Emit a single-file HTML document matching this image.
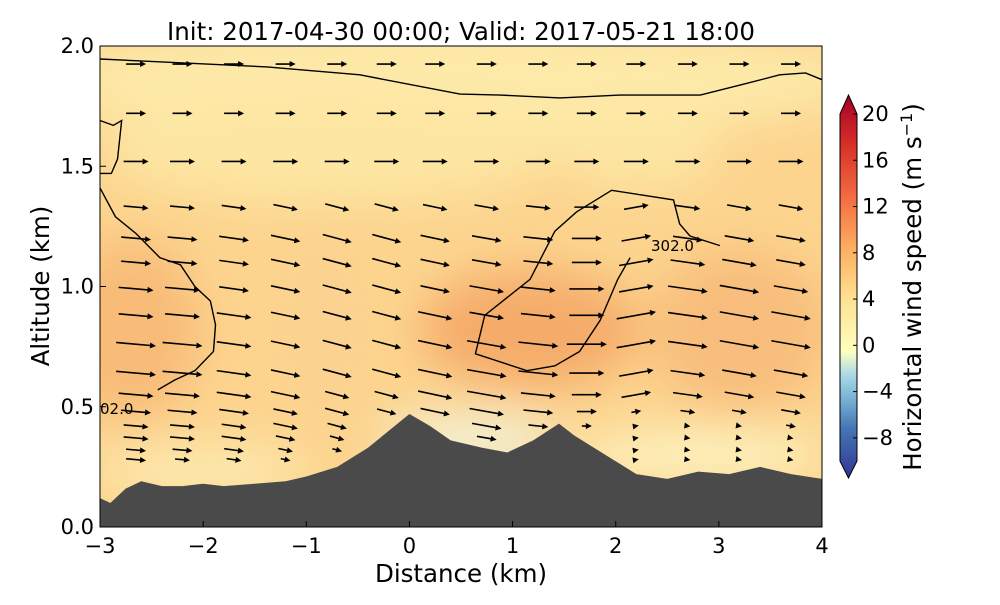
<!DOCTYPE html>
<html><head><meta charset="utf-8"><style>
body{margin:0;background:#fff;}
svg text{font-family:"DejaVu Sans","Liberation Sans",sans-serif;}
</style></head><body>
<svg id="chart" width="1000" height="600" viewBox="0 0 1000 600" xmlns="http://www.w3.org/2000/svg">
<defs>
<clipPath id="pc"><rect x="100" y="46" width="722" height="481"/></clipPath>
<filter id="bl" x="-50%" y="-50%" width="200%" height="200%"><feGaussianBlur stdDeviation="22"/></filter>
<linearGradient id="cbg" x1="0" y1="1" x2="0" y2="0">
<stop offset="0" stop-color="#313695"/><stop offset="0.13" stop-color="#4575b4"/>
<stop offset="0.2" stop-color="#74add1"/><stop offset="0.27" stop-color="#abd9e9"/>
<stop offset="0.33" stop-color="#ffffbf"/><stop offset="0.47" stop-color="#fee090"/>
<stop offset="0.6" stop-color="#fdae61"/><stop offset="0.73" stop-color="#f46d43"/>
<stop offset="0.87" stop-color="#d73027"/><stop offset="1" stop-color="#a50026"/>
</linearGradient>
</defs>
<text x="461" y="40" font-size="24.5" text-anchor="middle">Init: 2017-04-30 00:00; Valid: 2017-05-21 18:00</text>
<g clip-path="url(#pc)">
<rect x="100" y="46" width="722" height="481" fill="#fcd48e"/>
<g filter="url(#bl)">
<ellipse cx="450" cy="80" rx="420" ry="60" fill="#fde9a8"/>
<ellipse cx="330" cy="150" rx="230" ry="55" fill="#fde6a3"/>
<ellipse cx="640" cy="150" rx="80" ry="40" fill="#fde6a3"/>
<ellipse cx="130" cy="330" rx="70" ry="90" fill="#f8bb78"/>
<ellipse cx="530" cy="330" rx="110" ry="60" fill="#f5ac6b"/>
<ellipse cx="740" cy="330" rx="90" ry="80" fill="#f8bd7b"/>
<ellipse cx="320" cy="330" rx="30" ry="100" fill="#fbd190"/>
<ellipse cx="470" cy="440" rx="90" ry="25" fill="#f2f2d8"/>
<ellipse cx="700" cy="455" rx="130" ry="25" fill="#fdf3c0"/>
<ellipse cx="200" cy="470" rx="110" ry="25" fill="#fdeab0"/>
</g>
<path id="terrain" fill="#4a4a4a"/>
<g id="contours" fill="none" stroke="#000" stroke-width="1.4"></g>
<g id="arrows"></g>
<text x="651" y="251" font-size="15">302.0</text>
<text x="100" y="414" font-size="15">02.0</text>
</g>
<rect x="100" y="46" width="722" height="481" fill="none" stroke="#000" stroke-width="1"/>
<g id="axes" font-size="21"></g>
<text x="461" y="582" font-size="24.5" text-anchor="middle">Distance (km)</text>
<text transform="translate(49,286) rotate(-90)" font-size="24.5" text-anchor="middle">Altitude (km)</text>
<g>
<path d="M840,114 L848.5,95 L857,114 L857,461 L848.5,478 L840,461 Z" fill="url(#cbg)" stroke="#000" stroke-width="1"/>
<g id="cbticks" font-size="21"></g>
<text transform="translate(921,287) rotate(-90)" font-size="24.5" text-anchor="middle">Horizontal wind speed (m s<tspan dy="-9" font-size="16">−1</tspan><tspan dy="9">)</tspan></text>
</g>
</svg>
<script>
const terrainX=[-3,-2.9,-2.75,-2.6,-2.4,-2.2,-2.0,-1.8,-1.5,-1.2,-1.0,-0.7,-0.4,-0.2,0,0.2,0.4,0.7,0.95,1.2,1.45,1.6,1.9,2.2,2.5,2.8,3.1,3.4,3.7,4];
const terrainZ=[0.12,0.10,0.16,0.19,0.17,0.17,0.18,0.17,0.18,0.19,0.21,0.25,0.33,0.40,0.47,0.42,0.36,0.33,0.31,0.36,0.43,0.38,0.30,0.22,0.20,0.23,0.22,0.25,0.22,0.20];
const xTicks=[-3,-2,-1,0,1,2,3,4];
const yTicks=[0.0,0.5,1.0,1.5,2.0];
const cbTicks=[20,16,12,8,4,0,-4,-8];
const arrowCols=[-2.65,-2.2,-1.7,-1.2,-0.7,-0.22,0.25,0.75,1.25,1.72,2.2,2.7,3.2,3.7];
const arrowRows=[1.925,1.72,1.52,1.33,1.20,1.10,0.99,0.88,0.76,0.64,0.55,0.48,0.42,0.37,0.32,0.28];
const arrowSpeed=[
[4,4,4,4,4,4,4,4,4,4,4,4,4,4],
[4,4,4,4,4,4,4,4,4,4,4,4,4,4],
[5,5,5,5,5,5,5,5,5,5,5,5,5,5],
[5,5,5,5,5,5,5,5,5,5,5,5,5,5],
[6,6,6,6,6,6,6,6,6,6,6,6,6,6],
[6,6,6,6,6,6,6,6,6,6,7,7,7,6],
[7,7,6,6,6,6,6,7,7,7,7,8,8,7],
[7,7,7,6,6,6,7,7,7,7,8,8,8,8],
[8,8,7,6,6,6,7,8,8,8,8,8,8,8],
[8,8,7,6,6,6,7,8,8,7,7,7,7,7],
[7,7,7,6,5,5,7,8,7,6,6,6,6,6],
[6,6,6,5,5,4,6,7,6,4,2,3,3,4],
[5,5,5,5,4,3,5,6,4,2,1,1,1,2],
[5,5,5,4,3,2,3,4,2,1,1,1,1,1],
[4,4,4,3,2,2,2,2,1,1,1,1,1,1],
[4,3,3,2,2,1,1,1,1,1,1,1,1,1]];
const arrowTilt=[5,5,8,12,15,15,12,10,6,0,-10,8,10,10];
const contourTopX=[-3,-1.38,-0.48,0.49,0.88,1.46,2.04,2.82,3.21,3.59,3.84,4];
const contourTopZ=[1.946,1.913,1.88,1.80,1.796,1.784,1.796,1.796,1.838,1.88,1.888,1.86];
const contourSmallX=[-3,-2.87,-2.79,-2.83,-2.89,-3];
const contourSmallZ=[1.69,1.67,1.69,1.53,1.47,1.47];
const contourLeftX=[-3,-2.85,-2.65,-2.42,-2.22,-2.08,-1.93,-1.88,-1.90,-2.08,-2.28,-2.44];
const contourLeftZ=[1.41,1.29,1.22,1.12,1.09,1.0,0.94,0.84,0.73,0.65,0.61,0.57];
const contourMidX=[3.01,2.72,2.62,2.56,1.96,1.62,1.41,1.17,0.73,0.64,1.14,1.41,1.65,1.85,2.02,2.14];
const contourMidZ=[1.17,1.21,1.26,1.36,1.40,1.31,1.23,1.03,0.88,0.72,0.65,0.67,0.73,0.86,1.03,1.12];
const sx=v=>100+(v+3)*722/7;
const sy=v=>527-v*240.5;
const cy=v=>461-(v+10)*(461-114)/30;
const NS='http://www.w3.org/2000/svg';
function mk(tag,attrs,parent){const e=document.createElementNS(NS,tag);for(const k in attrs)e.setAttribute(k,attrs[k]);parent.appendChild(e);return e;}
let d='M'+sx(-3)+','+sy(0);
terrainX.forEach((x,i)=>{d+=' L'+sx(x)+','+sy(terrainZ[i]);});
d+=' L'+sx(4)+','+sy(0)+' Z';
document.getElementById('terrain').setAttribute('d',d);
function terrainAt(x){for(let i=0;i<terrainX.length-1;i++){if(x>=terrainX[i]&&x<=terrainX[i+1]){const t=(x-terrainX[i])/(terrainX[i+1]-terrainX[i]);return terrainZ[i]+t*(terrainZ[i+1]-terrainZ[i]);}}return 0;}
const cg=document.getElementById('contours');
[[contourTopX,contourTopZ],[contourSmallX,contourSmallZ],[contourLeftX,contourLeftZ],[contourMidX,contourMidZ]].forEach(c=>{
const p=mk('path',{d:c[0].map((x,i)=>(i?'L':'M')+sx(x)+','+sy(c[1][i])).join(' ')},cg);


});
const ag=document.getElementById('arrows');
arrowRows.forEach((z,r)=>{arrowCols.forEach((x,c)=>{
if(z<terrainAt(x)+0.04)return;
const sp=arrowSpeed[r][c];const L=sp*5;const a=(z>1.45?0:arrowTilt[c])*Math.PI/180;
const x0=sx(x)-L/2*Math.cos(a),y0=sy(z)-L/2*Math.sin(a);
const x1=x0+L*Math.cos(a),y1=y0+L*Math.sin(a);
const g=mk('g',{},ag);


mk('line',{x1:x0,y1:y0,x2:x1-4*Math.cos(a),y2:y1-4*Math.sin(a),stroke:'#000','stroke-width':1.6},g);
const hx=Math.cos(a),hy=Math.sin(a);
mk('path',{d:`M${x1},${y1} L${x1-6*hx-3*hy},${y1-6*hy+3*hx} L${x1-6*hx+3*hy},${y1-6*hy-3*hx} Z`,fill:'#000'},g);
});});
const ax=document.getElementById('axes');
xTicks.forEach(v=>{
mk('line',{x1:sx(v),y1:527,x2:sx(v),y2:521,stroke:'#000'},ax);
const t=mk('text',{x:sx(v),y:553,'text-anchor':'middle'},ax);t.textContent=(v<0?'−':'')+Math.abs(v);


});
yTicks.forEach(v=>{
mk('line',{x1:100,y1:sy(v),x2:106,y2:sy(v),stroke:'#000'},ax);
const t=mk('text',{x:94,y:sy(v)+7,'text-anchor':'end'},ax);t.textContent=v.toFixed(1);


});
const cb=document.getElementById('cbticks');
cbTicks.forEach(v=>{
mk('line',{x1:853,y1:cy(v),x2:857,y2:cy(v),stroke:'#000'},cb);
const t=mk('text',{x:862,y:cy(v)+7},cb);t.textContent=(v<0?'−':'')+Math.abs(v);


});
</script>
</body></html>
